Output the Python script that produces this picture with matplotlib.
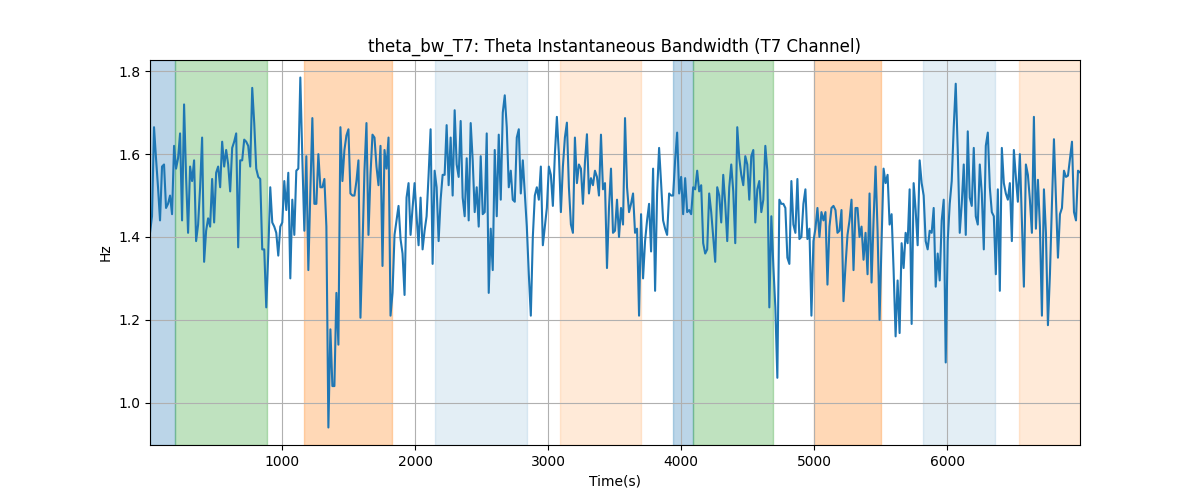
import numpy as np
import matplotlib
matplotlib.use("Agg")
import matplotlib.pyplot as plt

t_start = 8.0
t_end = 6997.0

seg1 = [1.41, 1.45, 1.665, 1.59, 1.52, 1.44, 1.57, 1.575, 1.47, 1.48, 1.50, 1.455, 1.62, 1.565, 1.59,
        1.65, 1.44, 1.72, 1.545, 1.41, 1.57, 1.535, 1.585, 1.39, 1.43, 1.52, 1.64, 1.34, 1.415, 1.445,
        1.425, 1.54, 1.435, 1.555, 1.57, 1.52, 1.63, 1.57, 1.61, 1.575, 1.51, 1.615, 1.63, 1.65, 1.375,
        1.585, 1.585, 1.635, 1.63, 1.62, 1.57, 1.76, 1.675, 1.565, 1.545, 1.54, 1.37, 1.37, 1.23, 1.36]
seg2 = [1.52, 1.435, 1.425, 1.41, 1.355, 1.425, 1.435, 1.535, 1.465, 1.555, 1.30, 1.49, 1.405, 1.56,
        1.565, 1.785, 1.59, 1.415, 1.595, 1.32, 1.51, 1.687, 1.48, 1.48, 1.60, 1.52, 1.52, 1.54, 1.425,
        0.94, 1.177, 1.04, 1.04, 1.265, 1.14, 1.665, 1.535, 1.61, 1.645, 1.66, 1.505, 1.50, 1.50, 1.535,
        1.585, 1.205, 1.375, 1.56, 1.675, 1.405, 1.55, 1.647, 1.64, 1.57, 1.525, 1.62, 1.33, 1.61, 1.565, 1.64]
seg3 = [1.21, 1.265, 1.405, 1.44, 1.475, 1.395, 1.36, 1.26, 1.495, 1.53, 1.405, 1.47, 1.53, 1.45, 1.38,
        1.495, 1.37, 1.415, 1.45, 1.55, 1.66, 1.335, 1.56, 1.52, 1.39, 1.49, 1.55, 1.55, 1.67, 1.525,
        1.64, 1.50, 1.706, 1.575, 1.545, 1.68, 1.495, 1.45, 1.59, 1.44, 1.675, 1.585, 1.46, 1.52, 1.425,
        1.595, 1.455, 1.46, 1.65, 1.265, 1.42, 1.32, 1.61, 1.45, 1.647, 1.49, 1.70, 1.742, 1.665, 1.52]
seg4 = [1.56, 1.49, 1.485, 1.64, 1.66, 1.505, 1.585, 1.505, 1.425, 1.31, 1.21, 1.40, 1.50, 1.52, 1.49,
        1.57, 1.38, 1.425, 1.47, 1.57, 1.55, 1.475, 1.60, 1.69, 1.60, 1.46, 1.57, 1.64, 1.676, 1.52,
        1.43, 1.41, 1.64, 1.53, 1.575, 1.565, 1.48, 1.58, 1.648, 1.505, 1.542, 1.525, 1.56, 1.545, 1.50,
        1.647, 1.515, 1.53, 1.325, 1.47, 1.565, 1.41, 1.415, 1.49, 1.40, 1.47, 1.43, 1.687, 1.52, 1.46]
seg5 = [1.48, 1.505, 1.41, 1.42, 1.21, 1.455, 1.30, 1.39, 1.44, 1.48, 1.365, 1.565, 1.27, 1.505, 1.615,
        1.53, 1.44, 1.42, 1.405, 1.505, 1.50, 1.50, 1.585, 1.652, 1.505, 1.545, 1.455, 1.542, 1.46, 1.465,
        1.455, 1.52, 1.515, 1.56, 1.51, 1.525, 1.385, 1.36, 1.37, 1.505, 1.46, 1.40, 1.34, 1.52, 1.50,
        1.435, 1.55, 1.48, 1.39, 1.52, 1.575, 1.51, 1.385, 1.665, 1.59, 1.55, 1.525, 1.595, 1.575, 1.49]
seg6 = [1.595, 1.61, 1.435, 1.515, 1.535, 1.46, 1.49, 1.62, 1.56, 1.23, 1.45, 1.33, 1.23, 1.06, 1.49,
        1.48, 1.48, 1.47, 1.35, 1.335, 1.535, 1.43, 1.41, 1.54, 1.395, 1.40, 1.48, 1.515, 1.395, 1.42,
        1.21, 1.39, 1.42, 1.47, 1.40, 1.46, 1.44, 1.46, 1.285, 1.425, 1.47, 1.475, 1.465, 1.41, 1.415,
        1.465, 1.245, 1.33, 1.405, 1.44, 1.49, 1.32, 1.47, 1.47, 1.40, 1.425, 1.345, 1.41, 1.31, 1.505]
seg7 = [1.29, 1.44, 1.57, 1.415, 1.20, 1.39, 1.565, 1.53, 1.55, 1.43, 1.455, 1.32, 1.16, 1.295, 1.168,
        1.385, 1.325, 1.41, 1.385, 1.515, 1.19, 1.53, 1.465, 1.38, 1.585, 1.53, 1.50, 1.39, 1.37, 1.415,
        1.41, 1.47, 1.28, 1.36, 1.295, 1.44, 1.49, 1.097, 1.39, 1.48, 1.535, 1.665, 1.77, 1.61, 1.41,
        1.48, 1.575, 1.405, 1.655, 1.495, 1.475, 1.615, 1.45, 1.43, 1.575, 1.505, 1.37, 1.62, 1.652, 1.52]
seg8 = [1.46, 1.45, 1.31, 1.515, 1.27, 1.615, 1.53, 1.505, 1.49, 1.53, 1.39, 1.61, 1.545, 1.485, 1.60,
        1.44, 1.28, 1.575, 1.55, 1.49, 1.41, 1.69, 1.42, 1.538, 1.425, 1.21, 1.515, 1.41, 1.187, 1.31,
        1.48, 1.636, 1.49, 1.35, 1.455, 1.47, 1.56, 1.545, 1.548, 1.59, 1.63, 1.46, 1.44, 1.56, 1.556]

hz = np.array(seg1 + seg2 + seg3 + seg4 + seg5 + seg6 + seg7 + seg8)
t = np.linspace(t_start, t_end, len(hz))

span_starts = [8, 195, 1165, 2150, 3090, 3940, 4090, 5000, 5815, 6540]
span_ends = [195, 885, 1830, 2840, 3700, 4090, 4690, 5500, 6355, 6997]
span_colors = ["tab:blue", "tab:green", "tab:orange", "tab:blue", "tab:orange",
               "tab:blue", "tab:green", "tab:orange", "tab:blue", "tab:orange"]
span_alphas = [0.3, 0.3, 0.3, 0.12, 0.16, 0.3, 0.3, 0.3, 0.12, 0.16]

fig, ax = plt.subplots(figsize=(12, 5), dpi=100)
for s, e, c, a in zip(span_starts, span_ends, span_colors, span_alphas):
    ax.axvspan(s, e, color=c, alpha=a)
ax.plot(t, hz, color="tab:blue", linewidth=1.5)
ax.set_xlim(t.min(), t.max())
ax.set_title("theta_bw_T7: Theta Instantaneous Bandwidth (T7 Channel)")
ax.set_xlabel("Time(s)")
ax.set_ylabel("Hz")
ax.grid(True)
fig.savefig("out.png")
